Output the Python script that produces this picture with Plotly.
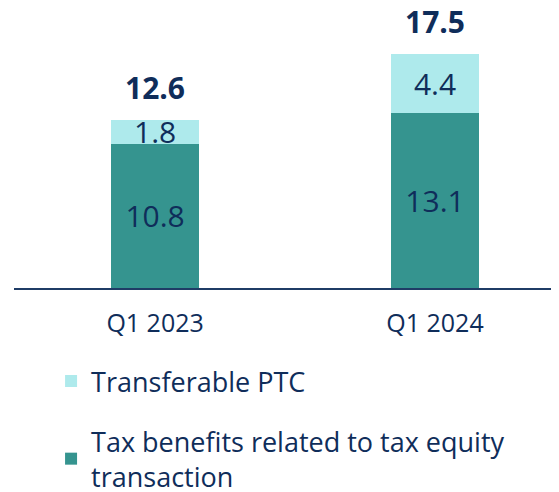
import plotly.graph_objects as go

quarters = ["Q1 2023", "Q1 2024"]
tax_equity = [10.8, 13.1]
transferable_ptc = [1.8, 4.4]
totals = [12.6, 17.5]

NAVY = "#0f2d5a"
DARK = "#35948f"
LIGHT = "#aeeaec"
FONT = "Open Sans"

fig = go.Figure()
fig.add_trace(go.Bar(
    x=quarters, y=tax_equity,
    name="Tax benefits related to tax equity<br>transaction",
    marker=dict(color=DARK, line=dict(width=0)),
    text=[f"{v:.1f}" for v in tax_equity],
    textposition="inside", insidetextanchor="middle",
    textfont=dict(size=30, color=NAVY, family=FONT),
    constraintext="none",
    legendgroup="a", legendrank=2,
))
fig.add_trace(go.Bar(
    x=quarters, y=transferable_ptc,
    name="Transferable PTC",
    marker=dict(color=LIGHT, line=dict(width=0)),
    text=[f"{v:.1f}" for v in transferable_ptc],
    textposition="inside", insidetextanchor="middle",
    textfont=dict(size=30, color=NAVY, family=FONT),
    constraintext="none",
    legendgroup="b", legendrank=1,
))

for q, t in zip(quarters, totals):
    fig.add_annotation(
        x=q, y=t, text=f"<b>{t:.1f}</b>", showarrow=False,
        yanchor="bottom", yshift=10,
        font=dict(size=30, color=NAVY, family=FONT),
    )

# page has an 8px body margin, so the figure is drawn at (8, 8)
fig.update_layout(
    width=551, height=484,
    barmode="stack", bargap=0.686,
    plot_bgcolor="white", paper_bgcolor="white",
    margin=dict(l=6, r=0, t=0, b=204),
    font=dict(family=FONT, color=NAVY),
    uniformtext=dict(mode="show", minsize=30),
    legend=dict(
        x=0.068, y=0.279, xanchor="left", yanchor="top", yref="container",
        font=dict(size=27, color=NAVY, family=FONT),
        tracegroupgap=22, traceorder="grouped",
        bgcolor="rgba(0,0,0,0)",
    ),
)
fig.update_xaxes(
    range=[-0.504, 1.443],
    showline=True, linecolor="#1f3c66", linewidth=2,
    ticks="", showgrid=False,
    tickfont=dict(size=25, color=NAVY, family=FONT),
    ticklabelstandoff=12,
)
fig.update_yaxes(range=[0, 20.97], visible=False, showgrid=False)

fig.write_html("out.html")
